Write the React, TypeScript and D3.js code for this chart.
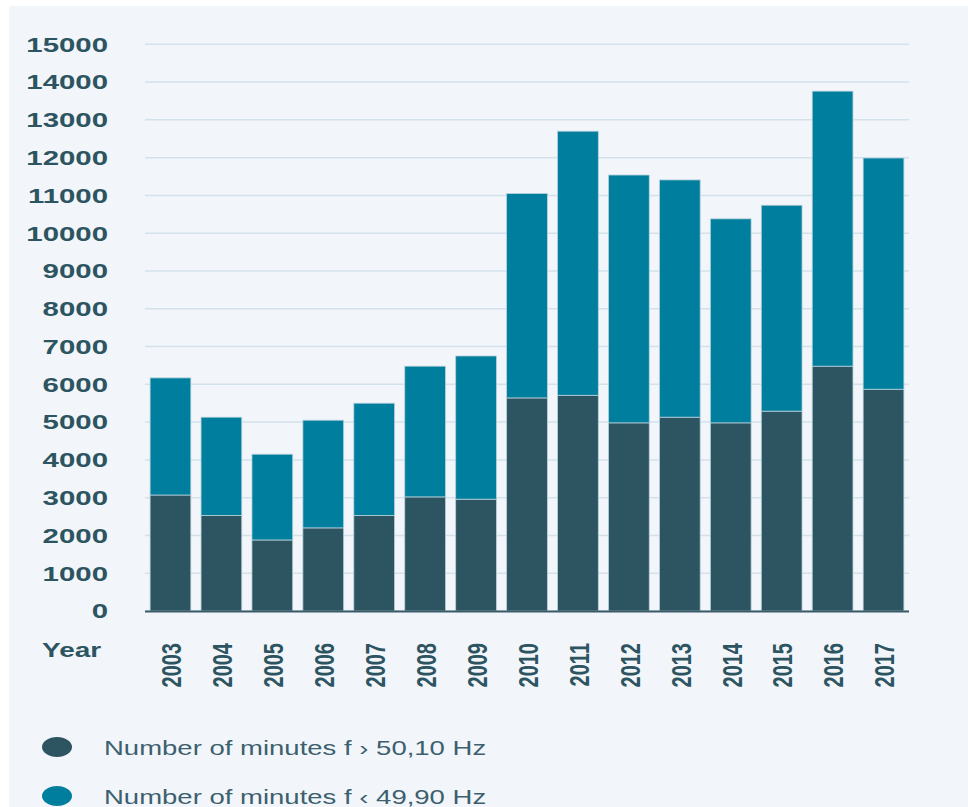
import React from "react";
import * as d3 from "d3";

const years = ["2003", "2004", "2005", "2006", "2007", "2008", "2009", "2010", "2011", "2012", "2013", "2014", "2015", "2016", "2017"];
// minutes with f > 50,10 Hz (lower, dark segment)
const above5010 = [3070, 2530, 1880, 2200, 2530, 3020, 2960, 5640, 5710, 4980, 5130, 4980, 5290, 6480, 5870];
// minutes with f < 49,90 Hz (upper, teal segment)
const below4990 = [3100, 2600, 2270, 2850, 2970, 3460, 3790, 5410, 6990, 6560, 6280, 5400, 5450, 7280, 6120];
const yTicks = d3.range(0, 15001, 1000);
const seriesNames = ["Number of minutes f › 50,10 Hz", "Number of minutes f ‹ 49,90 Hz"];
const colors = ["#2d5461", "#007e9e"];

const W = 968;
const H = 807;
const margin = { top: 44.3, left: 145, right: 59, bottom: 196 };
const sx = 1.4; // the source picture is stretched horizontally

export default function App() {
  const rows = years.map((y, i) => ({ year: y, a: above5010[i], b: below4990[i] }));
  const stack = d3.stack<any>().keys(["a", "b"])(rows);

  const x = d3.scaleBand<string>()
    .domain(years)
    .range([margin.left, W - margin.right])
    .paddingInner(0.2)
    .paddingOuter(0.1);

  const y = d3.scaleLinear()
    .domain([0, 15000])
    .range([H - margin.bottom, margin.top]);

  const textColor = "#2d5461";

  return (
    <svg width={W} height={H} style={{ position: "absolute", left: 0, top: 0 }}>
      <rect x={0} y={0} width={W} height={H} fill="#ffffff" />
      <rect x={9} y={6} width={W} height={H} fill="#f2f6fa" />

      {/* gridlines */}
      {yTicks.map((t) => (
        <line key={"g" + t} x1={margin.left} x2={W - margin.right} y1={y(t)} y2={y(t)}
          stroke="#d3e2ea" strokeWidth={1.5} />
      ))}

      {/* y labels */}
      {yTicks.map((t) => (
        <text key={"t" + t}
          transform={`translate(108,${y(t)}) scale(${sx},1)`}
          textAnchor="end" dominantBaseline="central"
          fontFamily="Liberation Sans, Arial, sans-serif" fontWeight="bold" fontSize={21}
          fill={textColor}>{t}</text>
      ))}

      {/* bars */}
      {stack.map((s, si) => (
        <g key={"s" + si} fill={colors[si]}>
          {s.map((d: any) => (
            <rect key={d.data.year}
              x={x(d.data.year)} width={x.bandwidth()}
              y={y(d[1])} height={y(d[0]) - y(d[1])}
              stroke="#b7d0da" strokeWidth={0.8} />
          ))}
        </g>
      ))}

      {/* baseline */}
      <line x1={margin.left} x2={W - margin.right} y1={y(0) + 0.5} y2={y(0) + 0.5}
        stroke="#3b5a68" strokeWidth={2} />

      {/* x labels */}
      <text transform={`translate(42,657) scale(${sx},1)`}
        fontFamily="Liberation Sans, Arial, sans-serif" fontWeight="bold" fontSize={20}
        fill={textColor}>Year</text>
      {years.map((yr) => (
        <text key={"x" + yr}
          transform={`translate(${(x(yr) as number) + x.bandwidth() / 2 + 1},643) scale(${sx},1) rotate(-90)`}
          textAnchor="end" dominantBaseline="central"
          fontFamily="Liberation Sans, Arial, sans-serif" fontWeight="bold" fontSize={20}
          fill={textColor}>{yr}</text>
      ))}

      {/* legend */}
      {seriesNames.map((name, i) => (
        <g key={"l" + i} transform={`translate(0,${747 + i * 49})`}>
          <ellipse cx={57} cy={0} rx={15} ry={10} fill={colors[i]} />
          <text transform={`translate(104,8) scale(1.31,1)`}
            fontFamily="Liberation Sans, Arial, sans-serif" fontSize={21}
            fill="#3c606e">{name}</text>
        </g>
      ))}
    </svg>
  );
}
